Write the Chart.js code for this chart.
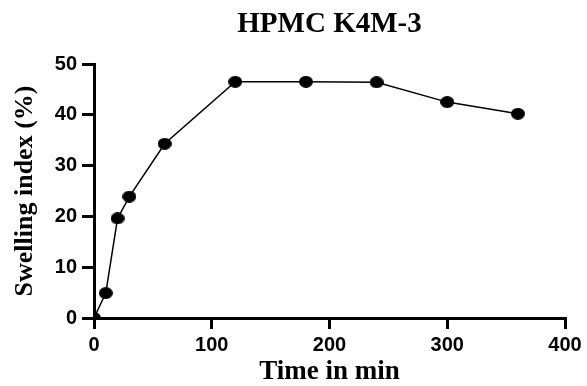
<!DOCTYPE html>
<html>
<head>
<meta charset="utf-8">
<script src="https://cdn.jsdelivr.net/npm/chart.js@4/dist/chart.umd.min.js"></script>
<style>
html,body{margin:0;padding:0;background:#fff;}
#wrap{width:587px;height:386px;position:relative;}
</style>
</head>
<body>
<div id="wrap"><canvas id="c" width="587" height="386"></canvas></div>
<script>
const timeMin = [0, 10, 20, 30, 60, 120, 180, 240, 300, 360];
const swellingIndex = [0, 4.9, 19.6, 23.9, 34.3, 46.5, 46.5, 46.4, 42.5, 40.2];
const xTicks = [0, 100, 200, 300, 400];
const yTicks = [0, 10, 20, 30, 40, 50];
const titleText = 'HPMC K4M-3';
const xTitle = 'Time in min';
const yTitle = 'Swelling index (%)';

// elliptical marker
const marker = document.createElement('canvas');
marker.width = 14; marker.height = 12;
const mctx = marker.getContext('2d');
mctx.fillStyle = '#000';
mctx.beginPath();
mctx.ellipse(7, 6, 7, 6, 0, 0, Math.PI * 2);
mctx.fill();

const points = timeMin.map((t, i) => ({x: t, y: swellingIndex[i]}));

new Chart(document.getElementById('c'), {
  type: 'line',
  data: {
    datasets: [{
      data: points,
      borderColor: '#000',
      borderWidth: 1.5,
      pointStyle: marker,
      pointRadius: 6,
      tension: 0
    }]
  },
  options: {
    responsive: false,
    animation: false,
    events: [],
    layout: {padding: {left: 0, right: 22, top: 0, bottom: 0}},
    plugins: {
      legend: {display: false},
      tooltip: {enabled: false},
      title: {
        display: true,
        text: titleText,
        fullSize: false,
        color: '#000',
        font: {family: '"Liberation Serif", "Times New Roman", serif', size: 29, weight: 'bold', lineHeight: 1.2},
        padding: {top: 7, bottom: 22.2}
      }
    },
    scales: {
      x: {
        type: 'linear',
        min: 0, max: 400,
        afterFit: s => { s.height = 68; },
        afterBuildTicks: s => { s.ticks = xTicks.map(v => ({value: v})); },
        border: {display: true, color: '#000', width: 3},
        grid: {display: true, drawOnChartArea: false, drawTicks: true, color: '#000', lineWidth: 3, tickLength: 11},
        ticks: {color: '#000', padding: 4, maxRotation: 0, font: {family: '"Liberation Sans", Arial, sans-serif', size: 20, weight: 'bold'}},
        title: {display: true, text: xTitle, color: '#000', padding: {top: 0, bottom: 0},
          font: {family: '"Liberation Serif", "Times New Roman", serif', size: 27, weight: 'bold', lineHeight: 1}}
      },
      y: {
        type: 'linear',
        min: 0, max: 50,
        afterFit: s => { s.width = 94; },
        afterBuildTicks: s => { s.ticks = yTicks.map(v => ({value: v})); },
        border: {display: true, color: '#000', width: 3},
        grid: {display: true, drawOnChartArea: false, drawTicks: true, color: '#000', lineWidth: 3, tickLength: 12},
        ticks: {color: '#000', padding: 5, font: {family: '"Liberation Sans", Arial, sans-serif', size: 20, weight: 'bold'}},
        title: {display: true, text: yTitle, color: '#000', padding: {top: 12, bottom: 0},
          font: {family: '"Liberation Serif", "Times New Roman", serif', size: 26, weight: 'bold', lineHeight: 1}}
      }
    }
  }
});
</script>
</body>
</html>
